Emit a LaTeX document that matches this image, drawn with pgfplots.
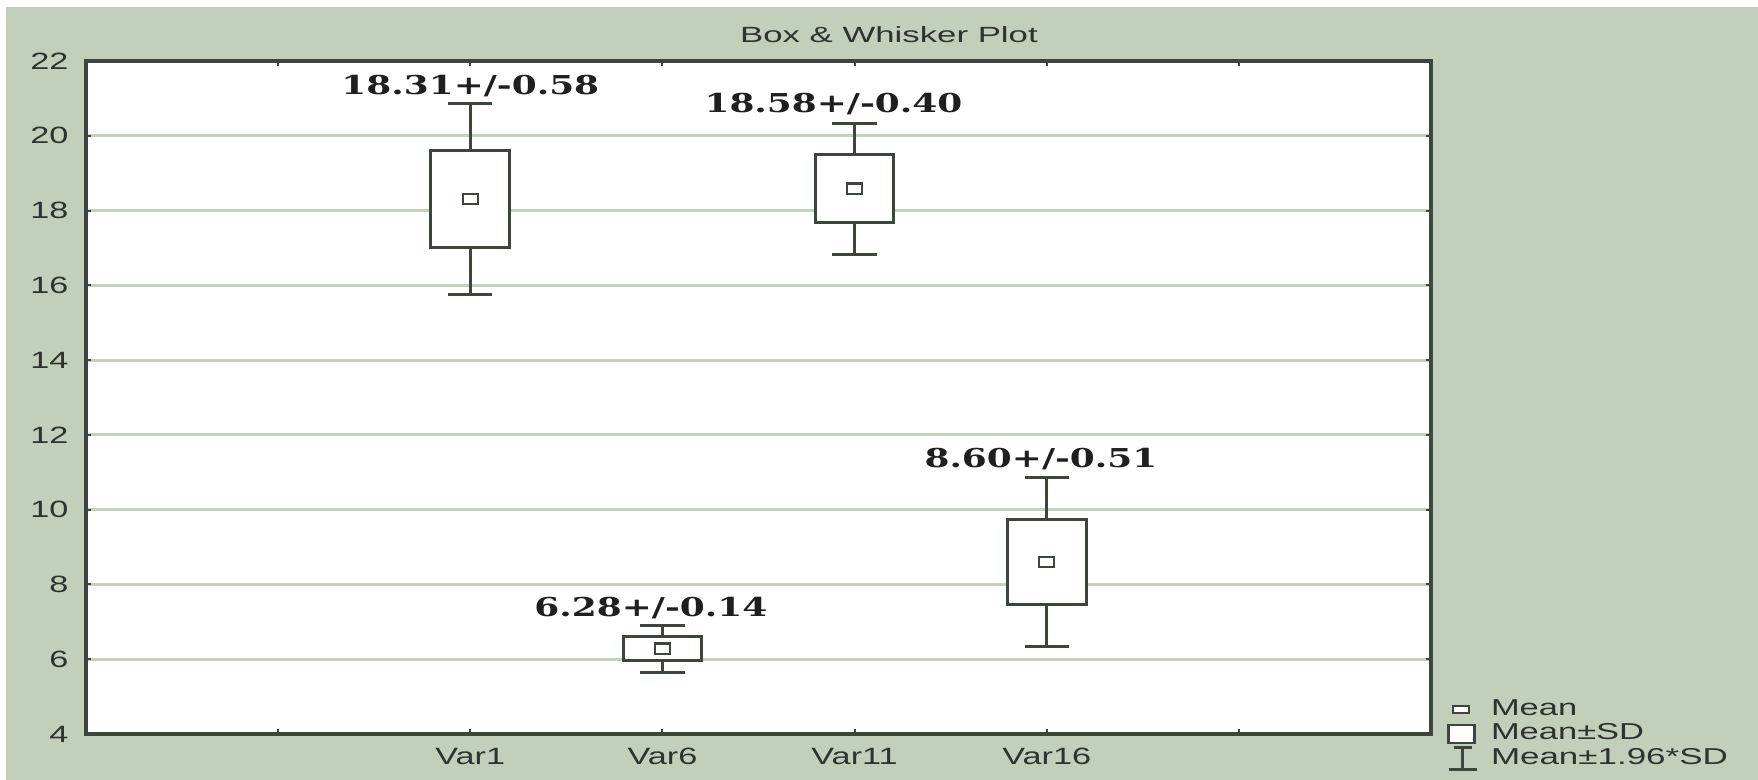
\documentclass[border=0pt]{standalone}
\usepackage{pgfplots}
\pgfplotsset{compat=1.18}
\usepgfplotslibrary{statistics}
\usepackage{fontspec}
\setmainfont{Liberation Sans}
\newfontfamily\labelfont{DejaVu Serif}
\definecolor{panel}{HTML}{C2CFBA}
\definecolor{ink}{HTML}{3C463C}
\definecolor{gridc}{HTML}{C4D2BC}
\definecolor{txt}{HTML}{2E332E}

\begin{document}
\begin{tikzpicture}
% page background: thin white margin on top and left, sage panel elsewhere
\fill[white] (-43pt,-23pt) rectangle (836pt,367pt);
\fill[panel] (-40pt,-23pt) rectangle (836pt,363.5pt);
\begin{axis}[
  scale only axis, width=672.5pt, height=336.5pt,
  xmin=0, xmax=7, ymin=4, ymax=22,
  xtick={1,...,6}, xticklabels={,Var1,Var6,Var11,Var16,},
  ytick={4,6,...,22},
  xtick pos=both, ytick pos=both,
  xticklabel pos=bottom, yticklabel pos=left,
  tick align=inside, major tick length=2.5pt,
  tick style={ink, line width=1pt},
  axis line style={ink, line width=1.6pt},
  axis background/.style={fill=white},
  ymajorgrids, grid style={gridc, line width=1.6pt},
  /pgf/number format/assume math mode=true,
  tick label style={font=\fontsize{11.8}{12}\selectfont, text=txt, xscale=1.45},
  yticklabel style={xshift=-2.5pt},
  xticklabel style={yshift=-3.5pt},
  title={Box \& Whisker Plot},
  title style={at={(axis description cs:0.597,1.021)}, anchor=center,
    font=\fontsize{11}{12}\selectfont, xscale=1.58, text=txt},
  boxplot/draw direction=y,
  boxplot/box extend=0.41,
  boxplot/whisker extend=0.23,
  boxplot/draw/median/.code={},
  legend style={at={(axis description cs:1,0.055)}, anchor=north west,
    xshift=8pt, draw=none, fill=none, inner sep=0pt,
    font=\fontsize{11.5}{12}\selectfont, text=txt, row sep=0.25pt,
    nodes={inner sep=0pt, text height=9pt, text depth=3pt},
    /tikz/every odd column/.append style={column sep=6.5pt}},
  legend cell align=left,
]
% boxes: mean +/- SD, whiskers: mean +/- 1.96*SD
\addplot[ink, line width=1.5pt, fill=white, forget plot,
  boxplot prepared={draw position=2, lower whisker=15.76, lower quartile=17.01,
    median=18.31, upper quartile=19.61, upper whisker=20.86}] coordinates {};
\addplot[ink, line width=1.5pt, fill=white, forget plot,
  boxplot prepared={draw position=3, lower whisker=5.65, lower quartile=5.96,
    median=6.28, upper quartile=6.60, upper whisker=6.91}] coordinates {};
\addplot[ink, line width=1.5pt, fill=white, forget plot,
  boxplot prepared={draw position=4, lower whisker=16.82, lower quartile=17.67,
    median=18.58, upper quartile=19.49, upper whisker=20.34}] coordinates {};
\addplot[ink, line width=1.5pt, fill=white, forget plot,
  boxplot prepared={draw position=5, lower whisker=6.35, lower quartile=7.45,
    median=8.60, upper quartile=9.75, upper whisker=10.85}] coordinates {};
% means
\addplot[only marks, mark=square*, mark size=2.6pt, forget plot,
  mark options={fill=white, draw=ink, line width=1.2pt, xscale=1.45}]
  coordinates {(2,18.31) (3,6.28) (4,18.58) (5,8.60)};
% value labels
\begin{scope}[every node/.style={font=\labelfont\bfseries\fontsize{13}{14}\selectfont,
    xscale=1.38, text=black!88, anchor=center}]
\node at (axis cs:2,21.33) {18.31+/-0.58};
\node at (axis cs:2.94,7.36) {6.28+/-0.14};
\node at (axis cs:3.89,20.85) {18.58+/-0.40};
\node at (axis cs:4.97,11.36) {8.60+/-0.51};
\end{scope}
% legend
\addlegendimage{legend image code/.code={\draw[ink, line width=1pt, fill=white] (2pt,-1.8pt) rectangle (10pt,1.8pt);}}
\addlegendentry{\scalebox{1.5}[1]{Mean}}
\addlegendimage{legend image code/.code={\draw[ink, line width=1.3pt, fill=white] (0pt,-4.5pt) rectangle (13pt,4.5pt);}}
\addlegendentry{\scalebox{1.5}[1]{Mean±SD}}
\addlegendimage{legend image code/.code={\draw[ink, line width=1.3pt] (0pt,-5.5pt) -- (14pt,-5.5pt) (7pt,-5.5pt) -- (7pt,5.5pt) (2.5pt,5.5pt) -- (11.5pt,5.5pt);}}
\addlegendentry{\scalebox{1.52}[1]{Mean±1.96*SD}}
\end{axis}
\end{tikzpicture}
\end{document}
